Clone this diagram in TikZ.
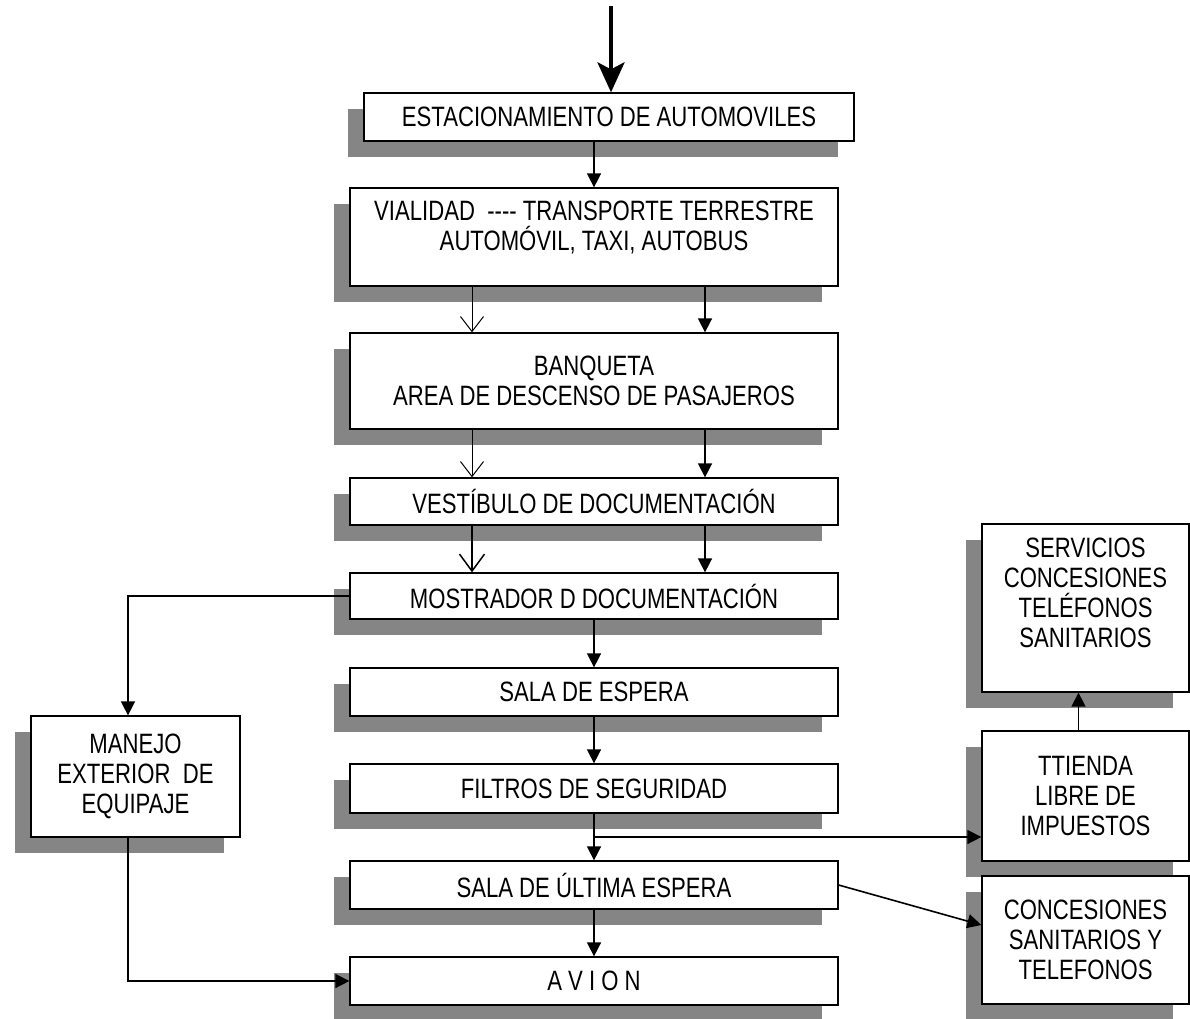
\documentclass[tikz,border=0pt]{standalone}
\usepackage{fontspec}
\setmainfont{Liberation Sans}[FakeStretch=0.79]
\usetikzlibrary{arrows.meta,shadows,calc}

\begin{document}
\begin{tikzpicture}[x=1pt,y=-1pt,
  box/.style={draw=black, line width=1.3pt, fill=white, align=center, inner sep=0pt,
    font=\fontsize{28}{30}\selectfont,
    drop shadow={shadow xshift=-16pt, shadow yshift=-16pt, fill=black!48, opacity=1}},
  colbox/.style={box, minimum width=488pt},
  sidebox/.style={box, minimum width=207pt},
  arr/.style={line width=1.6pt, -{Triangle[length=14pt,width=14pt]}},
  vee/.style={line width=1pt, -{Straight Barb[length=15pt,width=23pt]}},
  bigvee/.style={line width=1.5pt, -{Straight Barb[length=17pt,width=25pt]}},
  entryarr/.style={line width=4pt, -{Stealth[length=30pt,width=27pt,inset=7pt]}}
]
\useasboundingbox (0,0) rectangle (1190,1018);

% main column
\node[box, minimum width=490pt, minimum height=48pt] (estac) at (609,117) {ESTACIONAMIENTO DE AUTOMOVILES};
\node[colbox, minimum height=98pt] (vial) at (594,237) {VIALIDAD\ \ -{}-{}-{}- TRANSPORTE TERRESTRE\\AUTOMÓVIL, TAXI, AUTOBUS\\[-8pt]\mbox{}};
\node[colbox, minimum height=96pt] (banq) at (594,381) {BANQUETA\\AREA DE DESCENSO DE PASAJEROS};
\node[colbox, minimum height=47pt] (vest) at (594,501.5) {VESTÍBULO DE DOCUMENTACIÓN};
\node[colbox, minimum height=46pt] (most) at (594,596) {MOSTRADOR D DOCUMENTACIÓN};
\node[colbox, minimum height=48pt] (espera) at (594,692) {SALA DE ESPERA};
\node[colbox, minimum height=49pt] (filtros) at (594,788.5) {FILTROS DE SEGURIDAD};
\node[colbox, minimum height=48pt] (ultima) at (594,885) {SALA DE ÚLTIMA ESPERA};
\node[colbox, minimum height=48pt] (avion) at (594,981) {A V I O N};

% side boxes
\node[box, minimum width=209pt, minimum height=121pt] (manejo) at (135.5,776.5) {MANEJO\\EXTERIOR\ \ DE\\EQUIPAJE};
\node[sidebox, minimum height=168pt] (serv) at (1085.5,608) {SERVICIOS\\CONCESIONES\\TELÉFONOS\\SANITARIOS\\\mbox{}};
\node[sidebox, minimum height=130pt] (tienda) at (1085.5,796) {TTIENDA\\LIBRE DE\\IMPUESTOS};
\node[sidebox, minimum height=128pt] (conc) at (1085.5,940) {CONCESIONES\\SANITARIOS Y\\TELEFONOS};

% entry arrow
\coordinate (entry) at (611,6);
\draw[entryarr] (entry) -- (entry |- estac.north);

% main flow
\draw[arr] (estac.south -| vial.north) -- (vial.north);
\draw[vee] ([xshift=-122pt]vial.south) -- ([xshift=-122pt]banq.north);
\draw[arr] ([xshift=111pt]vial.south) -- ([xshift=111pt]banq.north);
\draw[vee] ([xshift=-122pt]banq.south) -- ([xshift=-122pt]vest.north);
\draw[arr] ([xshift=111pt]banq.south) -- ([xshift=111pt]vest.north);
\draw[bigvee] ([xshift=-122pt]vest.south) -- ([xshift=-122pt]most.north);
\draw[arr] ([xshift=111pt]vest.south) -- ([xshift=111pt]most.north);
\draw[arr] (most.south) -- (espera.north);
\draw[arr] (espera.south) -- (filtros.north);
\draw[arr] (filtros.south) -- (ultima.north);
\draw[arr] (ultima.south) -- (avion.north);

% baggage branch
\draw[arr] (most.west) -| ([xshift=-7.5pt]manejo.north);
\draw[arr] ([xshift=-7.5pt]manejo.south) |- (avion.west);

% services branch
\coordinate (br) at ($(filtros.south)!0.5!(ultima.north)$);
\draw[arr] (br) -- (br -| tienda.west);
\draw[arr] ([xshift=-7pt]tienda.north) -- ([xshift=-7pt]serv.south);
\draw[arr] (ultima.east) -- ([yshift=15pt]conc.west);
\end{tikzpicture}
\end{document}
